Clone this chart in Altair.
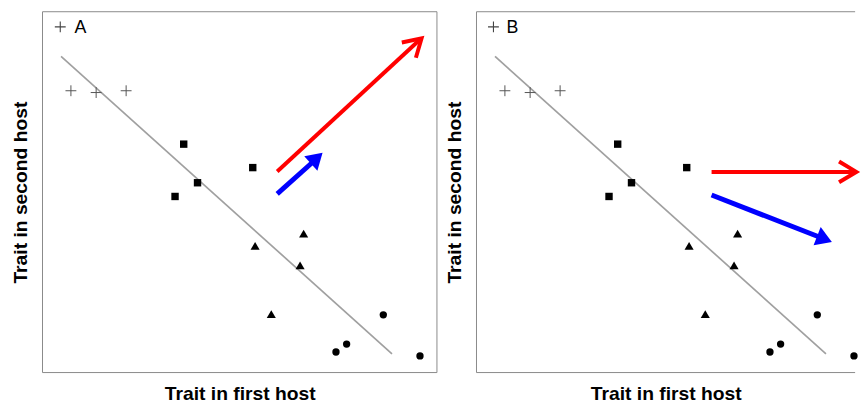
import altair as alt
import pandas as pd

# ---------------- data (axes 0-100 in both directions) ----------------
plus_x = [7.2, 13.6, 21.2]
plus_y = [78.1, 77.6, 78.1]
square_x = [35.8, 53.3, 39.3, 33.6]
square_y = [63.3, 56.8, 52.6, 48.8]
triangle_x = [66.2, 53.9, 65.3, 58.0]
triangle_y = [38.5, 35.1, 29.7, 16.2]
circle_x = [86.4, 77.1, 74.4, 95.7]
circle_y = [16.0, 7.9, 5.7, 4.6]
trend_x = [4.7, 88.6]
trend_y = [87.6, 5.2]

panels = ["A", "B"]
label_x = [9.6, 9.1]
label_plus_x = [4.5, 4.3]
label_y = [94.2, 94.2]
label_plus_y = [95.8, 95.8]

arrow_panel = ["A", "A", "B", "B"]
arrow_color = ["#ff0000", "#0000ff", "#ff0000", "#0000ff"]
arrow_head = ["open", "filled", "open", "filled"]
arrow_x0 = [59.5, 59.5, 59.6, 59.6]
arrow_y0 = [55.7, 49.5, 55.6, 49.2]
arrow_x1 = [95.5, 69.6, 95.6, 88.2]   # end of shaft
arrow_y1 = [92.1, 59.4, 55.6, 37.0]
arrow_tx = [96.1, 71.0, 96.3, 90.1]   # tip of head
arrow_ty = [92.6, 60.9, 55.6, 36.2]
arrow_angle = [317.3, 317.9, 0.0, 21.2]

# ---------------- layout ----------------
A_W, B_W, H = 399, 383, 365
FONT = "Liberation Sans"
FRAME = "#8a8a8a"

PLUS = "M-1,0L1,0M0,-1L0,1"
OPEN_HEAD = "M-1,-0.6L0,0L-1,0.6"
FILLED_HEAD = "M0,0L-1,-0.62L-1,0.62Z"

arrows = pd.DataFrame({
    "panel": arrow_panel, "color": arrow_color, "head": arrow_head,
    "x": arrow_x0, "y": arrow_y0, "x2": arrow_x1, "y2": arrow_y1,
    "tx": arrow_tx, "ty": arrow_ty, "angle": arrow_angle,
})


def panel(name, width, xmax, right_edge=True):
    xs = alt.Scale(domain=[0, xmax], nice=False, zero=False)
    ys = alt.Scale(domain=[0, 100], nice=False, zero=False)
    xaxis = alt.Axis(title="Trait in first host", labels=False, ticks=False, domain=False,
                     grid=False, titleFont=FONT, titleFontSize=19.5, titleFontWeight="bold",
                     titleColor="#000000", titleBaseline="alphabetic", titlePadding=27)
    yaxis = alt.Axis(title="Trait in second host", labels=False, ticks=False, domain=False,
                     grid=False, titleFont=FONT, titleFontSize=19.5, titleFontWeight="bold",
                     titleColor="#000000", titleBaseline="alphabetic", titlePadding=16)
    X = alt.X("x:Q", scale=xs, axis=xaxis)
    Y = alt.Y("y:Q", scale=ys, axis=yaxis)

    trend = alt.Chart(pd.DataFrame({"x": [trend_x[0]], "y": [trend_y[0]],
                                    "x2": [trend_x[1]], "y2": [trend_y[1]]})).mark_rule(
        color="#a0a0a0", strokeWidth=1.7).encode(x=X, y=Y, x2="x2:Q", y2="y2:Q")

    pluses = alt.Chart(pd.DataFrame({"x": plus_x, "y": plus_y})).mark_point(
        shape=PLUS, size=121, filled=False, color="#555555", strokeWidth=1, opacity=1
    ).encode(x=X, y=Y)
    squares = alt.Chart(pd.DataFrame({"x": square_x, "y": square_y})).mark_point(
        shape="square", size=56, filled=True, color="#000000", opacity=1).encode(x=X, y=Y)
    triangles = alt.Chart(pd.DataFrame({"x": triangle_x, "y": triangle_y})).mark_point(
        shape="triangle-up", size=85, filled=True, color="#000000", opacity=1).encode(x=X, y=Y)
    circles = alt.Chart(pd.DataFrame({"x": circle_x, "y": circle_y})).mark_point(
        shape="circle", size=55, filled=True, color="#000000", opacity=1).encode(x=X, y=Y)

    a = arrows[arrows["panel"] == name]
    red = a[a["head"] == "open"]
    blue = a[a["head"] == "filled"]
    red_shaft = alt.Chart(red).mark_rule(strokeWidth=4, strokeCap="butt").encode(
        x=X, y=Y, x2="x2:Q", y2="y2:Q", color=alt.Color("color:N", scale=None))
    blue_shaft = alt.Chart(blue).mark_rule(strokeWidth=5, strokeCap="butt").encode(
        x=X, y=Y, x2="x2:Q", y2="y2:Q", color=alt.Color("color:N", scale=None))
    red_head = alt.Chart(red).mark_point(
        shape=OPEN_HEAD, size=1225, filled=False, strokeWidth=4, strokeJoin="miter",
        strokeCap="butt", opacity=1
    ).encode(x=alt.X("tx:Q", scale=xs, axis=xaxis), y=alt.Y("ty:Q", scale=ys, axis=yaxis),
             angle=alt.Angle("angle:Q", scale=None), color=alt.Color("color:N", scale=None))
    blue_head = alt.Chart(blue).mark_point(
        shape=FILLED_HEAD, size=1024, filled=True, strokeWidth=0, opacity=1
    ).encode(x=alt.X("tx:Q", scale=xs, axis=xaxis), y=alt.Y("ty:Q", scale=ys, axis=yaxis),
             angle=alt.Angle("angle:Q", scale=None), color=alt.Color("color:N", scale=None))

    i = panels.index(name)
    lab = alt.Chart(pd.DataFrame({"x": [label_x[i]], "y": [label_y[i]], "label": [name]})).mark_text(
        font=FONT, fontSize=18, color="#000000", align="center", baseline="alphabetic"
    ).encode(x=X, y=Y, text="label:N")
    lab_plus = alt.Chart(pd.DataFrame({"x": [label_plus_x[i]], "y": [label_plus_y[i]]})).mark_point(
        shape=PLUS, size=121, filled=False, color="#444444", strokeWidth=1.1, opacity=1
    ).encode(x=X, y=Y)

    frame_src = pd.DataFrame({"k": [0]})
    frames = [
        alt.Chart(frame_src).mark_rule(color=FRAME, strokeWidth=1).encode(x=alt.value(0)),
        alt.Chart(frame_src).mark_rule(color=FRAME, strokeWidth=1).encode(y=alt.value(0)),
        alt.Chart(frame_src).mark_rule(color=FRAME, strokeWidth=1).encode(y=alt.value(H)),
    ]
    if right_edge:
        frames.append(alt.Chart(frame_src).mark_rule(color=FRAME, strokeWidth=1).encode(x=alt.value(width)))

    return alt.layer(trend, *frames, pluses, squares, triangles, circles,
                     red_shaft, blue_shaft, red_head, blue_head, lab, lab_plus).properties(
        width=width, height=H)


chart_a = panel("A", A_W, 100.0, right_edge=True)
chart_b = panel("B", B_W, 100.0 * B_W / A_W, right_edge=False)

chart = alt.hconcat(chart_a, chart_b, spacing=40, bounds="flush").properties(
    padding={"left": 11, "top": 8.5, "right": 0, "bottom": 2},
    background="#ffffff",
).configure_view(strokeWidth=0)

chart.save("out.html", embed_options={"renderer": "svg", "actions": False})
